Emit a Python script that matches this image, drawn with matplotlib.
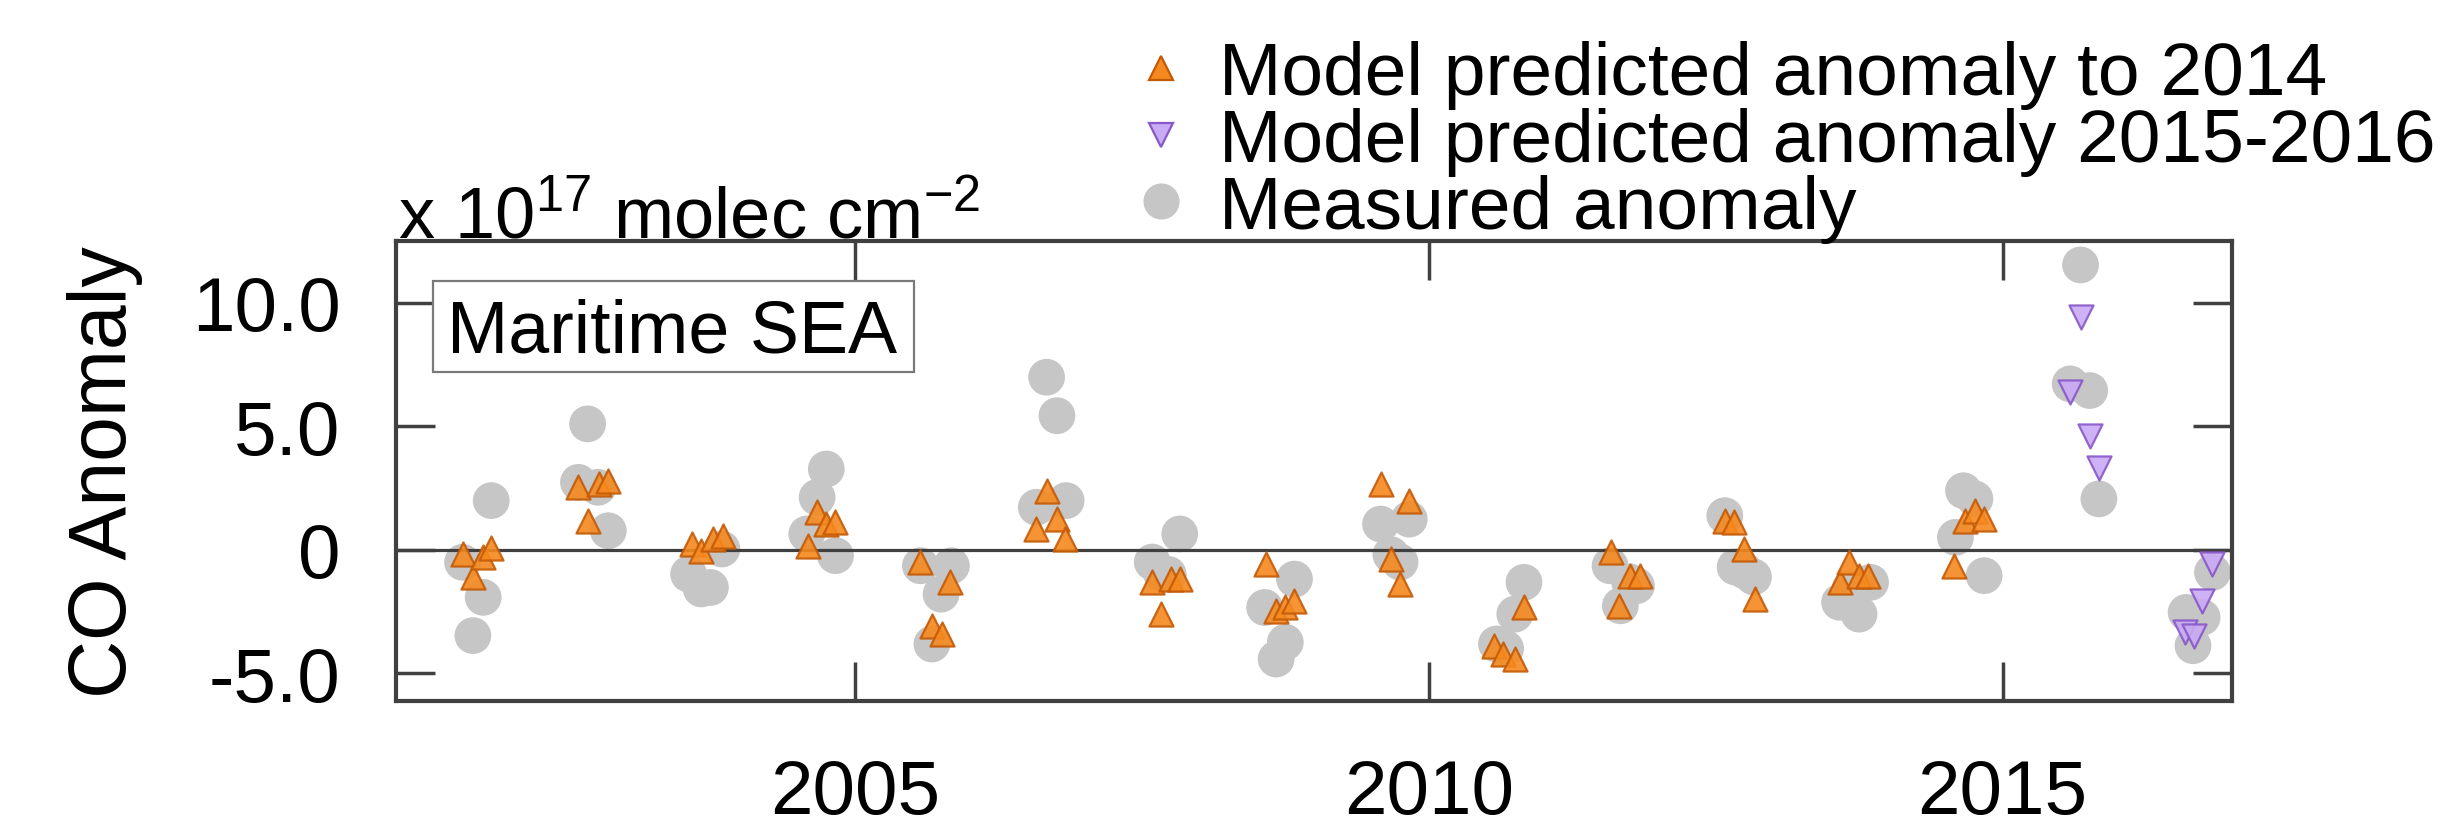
import matplotlib
matplotlib.use('Agg')
import matplotlib.pyplot as plt
from matplotlib.patches import Rectangle
from matplotlib.lines import Line2D

plt.rcParams['font.family'] = ['Liberation Sans', 'DejaVu Sans']
plt.rcParams['mathtext.fontset'] = 'custom'
plt.rcParams['mathtext.rm'] = 'Liberation Sans'
plt.rcParams['mathtext.it'] = 'Liberation Sans:italic'
plt.rcParams['mathtext.bf'] = 'Liberation Sans:bold'

# ---------------- data (decimal year, anomaly in 1e17 molec cm^-2) ----------------
measured_time = [
    2001.58, 2001.67, 2001.76, 2001.83,
    2002.59, 2002.67, 2002.76, 2002.85,
    2003.55, 2003.66, 2003.74, 2003.84,
    2004.58, 2004.67, 2004.75, 2004.83,
    2005.57, 2005.67, 2005.75, 2005.84,
    2006.58, 2006.67, 2006.76, 2006.84,
    2007.59, 2007.67, 2007.73, 2007.83,
    2008.57, 2008.67, 2008.75, 2008.83,
    2009.58, 2009.67, 2009.75, 2009.83,
    2010.59, 2010.67, 2010.75, 2010.83,
    2011.58, 2011.67, 2011.75, 2011.81,
    2012.58, 2012.67, 2012.75, 2012.83,
    2013.58, 2013.67, 2013.75, 2013.85,
    2014.59, 2014.66, 2014.76, 2014.84,
    2015.59, 2015.68, 2015.76, 2015.84,
    2016.60, 2016.66, 2016.74, 2016.83,
]
measured_anomaly = [
    -0.51, -3.48, -1.93, 1.99,
    2.73, 5.10, 2.53, 0.77,
    -0.99, -1.59, -1.53, 0.03,
    0.64, 2.12, 3.27, -0.24,
    -0.65, -3.82, -1.80, -0.65,
    1.72, 6.99, 5.43, 1.99,
    -0.50, -0.95, -1.00, 0.64,
    -2.34, -4.43, -3.75, -1.19,
    1.04, -0.20, -0.50, 1.24,
    -3.82, -4.00, -2.61, -1.32,
    -0.65, -2.27, -1.30, -1.46,
    1.38, -0.70, -0.85, -1.10,
    -2.13, -1.60, -2.61, -1.32,
    0.50, 2.39, 2.06, -1.05,
    6.72, 11.54, 6.45, 2.06,
    -2.54, -3.89, -2.74, -0.92,
]

model_time = [
    2001.58, 2001.67, 2001.76, 2001.83,
    2002.59, 2002.67, 2002.77, 2002.85,
    2003.58, 2003.66, 2003.76, 2003.85,
    2004.59, 2004.67, 2004.75, 2004.83,
    2005.57, 2005.67, 2005.76, 2005.83,
    2006.58, 2006.67, 2006.76, 2006.83,
    2007.59, 2007.67, 2007.75, 2007.83,
    2008.58, 2008.67, 2008.75, 2008.83,
    2009.58, 2009.67, 2009.75, 2009.83,
    2010.57, 2010.65, 2010.75, 2010.83,
    2011.59, 2011.66, 2011.75, 2011.84,
    2012.58, 2012.66, 2012.75, 2012.84,
    2013.58, 2013.66, 2013.75, 2013.83,
    2014.58, 2014.67, 2014.76, 2014.84,
]
model_anomaly = [
    -0.17, -1.12, -0.31, 0.06,
    2.53, 1.18, 2.66, 2.77,
    0.23, -0.04, 0.43, 0.57,
    0.16, 1.51, 1.04, 1.11,
    -0.51, -3.08, -3.42, -1.32,
    0.84, 2.39, 1.24, 0.43,
    -1.32, -2.61, -1.19, -1.19,
    -0.58, -2.47, -2.34, -2.07,
    2.66, -0.38, -1.39, 1.99,
    -3.89, -4.23, -4.43, -2.34,
    -0.11, -2.27, -1.05, -1.05,
    1.15, 1.11, 0.03, -2.00,
    -1.32, -0.51, -1.05, -1.05,
    -0.65, 1.18, 1.58, 1.24,
]

forecast_time = [
    2015.59, 2015.68, 2015.76, 2015.84,
    2016.59, 2016.67, 2016.74, 2016.83,
]
forecast_anomaly = [
    6.38, 9.42, 4.62, 3.30,
    -3.35, -3.51, -2.07, -0.58,
]

year_ticks = [2005, 2010, 2015]
year_labels = ['2005', '2010', '2015']
value_ticks = [-5, 0, 5, 10]
value_labels = ['-5.0', '0', '5.0', '10.0']

label_model = 'Model predicted anomaly to 2014'
label_forecast = 'Model predicted anomaly 2015-2016'
label_measured = 'Measured anomaly'
region_name = 'Maritime SEA'
y_title = 'CO Anomaly'
unit_text = r'x 10$^{17}$ molec cm$^{-2}$'

# ---------------- styling ----------------
W, H = 2453, 828
GRAY = '#c6c6c6'
ORANGE = '#f5891f'
ORANGE_EDGE = '#c45a06'
PURPLE = '#c9aaf4'
PURPLE_EDGE = '#8758c8'
AXCOL = '#404040'

fig = plt.figure(figsize=(W / 100, H / 100), dpi=100)
ax = fig.add_axes([396 / W, 1 - 702 / H, 1836 / W, 460 / H])

ax.scatter(measured_time, measured_anomaly, s=700, marker='o', color=GRAY,
           edgecolors='none', zorder=2)
ax.axhline(0, color=AXCOL, lw=2.3, zorder=2.5)
ax.scatter(model_time, model_anomaly, s=300, marker='^', color=ORANGE,
           edgecolors=ORANGE_EDGE, linewidths=1.6, alpha=0.9, zorder=3)
ax.scatter(forecast_time, forecast_anomaly, s=300, marker='v', color=PURPLE,
           edgecolors=PURPLE_EDGE, linewidths=1.6, alpha=0.9, zorder=3)

ax.set_xlim(2001.0, 2017.0)
ax.set_ylim(-6.13, 12.51)
ax.set_xticks(year_ticks)
ax.set_xticklabels(year_labels)
ax.set_yticks(value_ticks)
ax.set_yticklabels(value_labels)

ax.tick_params(axis='both', direction='in', length=28, width=2.5, color=AXCOL,
               labelcolor='black', labelsize=55, top=True, right=True)
ax.tick_params(axis='x', pad=41)
ax.tick_params(axis='y', pad=40)
for sp in ax.spines.values():
    sp.set_color(AXCOL)
    sp.set_linewidth(3.0)

ax.set_ylabel(y_title, fontsize=58)
ax.yaxis.set_label_coords(-0.138, 0.5)

ax.text(0.001, (702 - 238) / 460, unit_text, transform=ax.transAxes,
        ha='left', va='baseline', fontsize=52)

# region label box
ax.add_patch(Rectangle((0.0202, 0.716), 0.2617, 0.1977, transform=ax.transAxes,
                       fill=True, facecolor='white', edgecolor='#7a7a7a',
                       linewidth=1.6, zorder=4))
ax.text(0.0278, (702 - 353) / 460, region_name, transform=ax.transAxes,
        ha='left', va='baseline', fontsize=53, zorder=5)

handles = [
    Line2D([], [], linestyle='none', marker='^', markersize=17,
           markerfacecolor=ORANGE, markeredgecolor=ORANGE_EDGE, markeredgewidth=1.6),
    Line2D([], [], linestyle='none', marker='v', markersize=17,
           markerfacecolor=PURPLE, markeredgecolor=PURPLE_EDGE, markeredgewidth=1.6),
    Line2D([], [], linestyle='none', marker='o', markersize=26,
           markerfacecolor=GRAY, markeredgecolor='none'),
]
fig.legend(handles, [label_model, label_forecast, label_measured],
           loc='upper left', bbox_to_anchor=(1142 / W, 1 - 41 / H),
           bbox_transform=fig.transFigure, frameon=False, fontsize=54,
           handlelength=0.5, handletextpad=0.53, labelspacing=-0.03,
           borderpad=0, borderaxespad=0)

fig.savefig('out.png', dpi=100)
